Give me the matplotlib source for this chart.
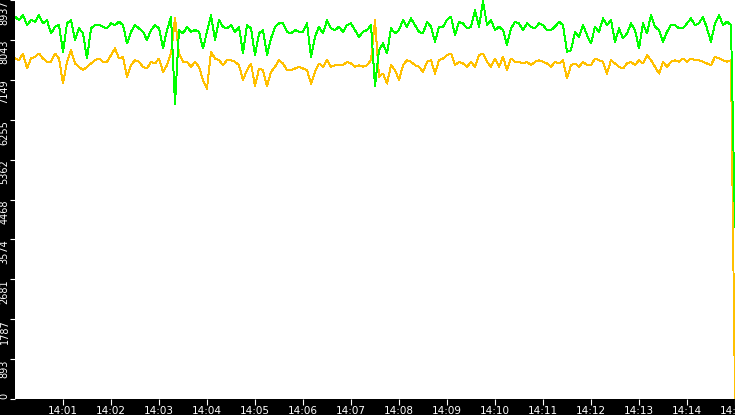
#!/usr/bin/env python3
"""Two-channel rate trace, 14:00-14:15, dark frame with white plot area."""

import matplotlib

matplotlib.use("Agg")
import matplotlib.dates as mdates
import matplotlib.pyplot as plt
import numpy as np
import pandas as pd

START = "2024-01-01 14:00:00"
STEP = "5s"
Y_MAX = 8937

green_vals = [
    8563, 8488, 8600, 8376, 8488, 8450, 8600, 8413, 8488, 8189, 8338, 8376, 7777, 8413, 8488,
    8039, 8301, 8189, 7627, 8301, 8376, 8376, 8338, 8301, 8413, 8376, 8450, 8376, 7964, 8226,
    8376, 8301, 8226, 8039, 8263, 8376, 8301, 7852, 8263, 8563, 6617, 8263, 8189, 8338, 8226,
    8263, 8226, 7852, 8226, 8600, 8039, 8488, 8338, 8301, 8376, 8226, 8338, 7739, 8376, 8301,
    7702, 8189, 8263, 7702, 8076, 8338, 8413, 8413, 8226, 8189, 8263, 8226, 8226, 8413, 7665,
    8114, 8338, 8189, 8488, 8301, 8263, 8338, 8226, 8376, 8413, 8263, 8114, 8226, 8263, 8376,
    7006, 7814, 7964, 7739, 8301, 8189, 8263, 8488, 8338, 8525, 8376, 8226, 8189, 8450, 8338,
    8001, 8338, 8338, 8488, 8563, 8151, 8450, 8413, 8301, 8338, 8712, 8338, 8915, 8376, 8488,
    8263, 8338, 8263, 7927, 8301, 8450, 8413, 8263, 8413, 8338, 8301, 8413, 8376, 8263, 8263,
    8338, 8450, 8376, 7777, 7814, 8226, 8114, 8376, 8151, 7964, 8338, 8226, 8525, 8376, 8488,
    8001, 8301, 8076, 8189, 8413, 8263, 7852, 8413, 8189, 8600, 8338, 8263, 8001, 8226, 8376,
    8376, 8301, 8301, 8413, 8525, 8376, 8413, 8563, 8301, 8001, 8413, 8600, 8376, 8450, 8376,
    3850,
]

orange_vals = [
    7627, 7590, 7739, 7403, 7627, 7665, 7739, 7627, 7552, 7552, 7739, 7627, 7066, 7552, 7814,
    7515, 7440, 7365, 7440, 7515, 7590, 7627, 7552, 7552, 7702, 7852, 7627, 7665, 7216, 7477,
    7590, 7552, 7440, 7403, 7552, 7515, 7627, 7328, 7477, 7739, 8525, 7739, 7552, 7552, 7440,
    7552, 7440, 7141, 6953, 7777, 7627, 7590, 7477, 7590, 7590, 7552, 7477, 7141, 7365, 7515,
    7006, 7403, 7365, 7006, 7328, 7440, 7590, 7515, 7365, 7365, 7403, 7440, 7403, 7365, 7066,
    7328, 7515, 7440, 7590, 7440, 7477, 7477, 7477, 7552, 7515, 7440, 7477, 7440, 7477, 7590,
    8488, 7216, 7290, 7066, 7477, 7365, 7141, 7477, 7590, 7552, 7477, 7440, 7328, 7552, 7590,
    7290, 7590, 7627, 7702, 7739, 7477, 7552, 7515, 7440, 7552, 7440, 7702, 7739, 7552, 7440,
    7627, 7440, 7665, 7365, 7627, 7552, 7552, 7515, 7552, 7477, 7552, 7590, 7552, 7515, 7440,
    7552, 7515, 7590, 7178, 7477, 7515, 7440, 7552, 7477, 7477, 7627, 7590, 7552, 7290, 7590,
    7515, 7440, 7403, 7515, 7552, 7477, 7590, 7515, 7702, 7590, 7440, 7290, 7552, 7440, 7552,
    7590, 7552, 7627, 7552, 7627, 7590, 7590, 7552, 7515, 7477, 7665, 7627, 7590, 7552, 7590,
    0,
]

y_ticks = [0, 893, 1787, 2681, 3574, 4468, 5362, 6255, 7149, 8043, 8937]

GREEN = "#00ff00"
ORANGE = "#ffc000"


def main() -> None:
    times = pd.date_range(START, periods=len(green_vals), freq=STEP)

    fig = plt.figure(figsize=(7.35, 4.15), dpi=100)
    fig.patch.set_facecolor("black")
    ax = fig.add_axes([15 / 735, 16 / 415, 720 / 735, 399 / 415])
    ax.set_facecolor("white")

    ax.plot(times, orange_vals, color=ORANGE, linewidth=0.7, antialiased=False)
    ax.plot(times, green_vals, color=GREEN, linewidth=0.7, antialiased=False)

    ax.set_xlim(times[0], times[-1])
    ax.set_ylim(0, Y_MAX)

    ax.xaxis.set_major_locator(mdates.MinuteLocator())
    ax.xaxis.set_major_formatter(mdates.DateFormatter("%H:%M"))
    ax.set_yticks(y_ticks)
    ax.set_yticklabels([str(v) for v in y_ticks])

    ax.tick_params(axis="x", colors="white", direction="out", length=4.5,
                   width=0.8, labelsize=7.5, pad=0.3)
    ax.tick_params(axis="y", colors="white", direction="out", length=3.6,
                   width=0.8, labelsize=7, pad=0.3)
    for lab in ax.get_yticklabels():
        lab.set_rotation(90)
        lab.set_verticalalignment("top")
    ax.get_yticklabels()[0].set_verticalalignment("bottom")
    # first minute tick sits on the left edge, hide it like the reference
    ax.get_xticklabels()[0].set_visible(False)
    ax.xaxis.get_major_ticks()[0].tick1line.set_visible(False)

    for spine in ax.spines.values():
        spine.set_visible(False)

    fig.savefig("out.png", dpi=100, facecolor=fig.get_facecolor())
    plt.close(fig)


if __name__ == "__main__":
    main()
